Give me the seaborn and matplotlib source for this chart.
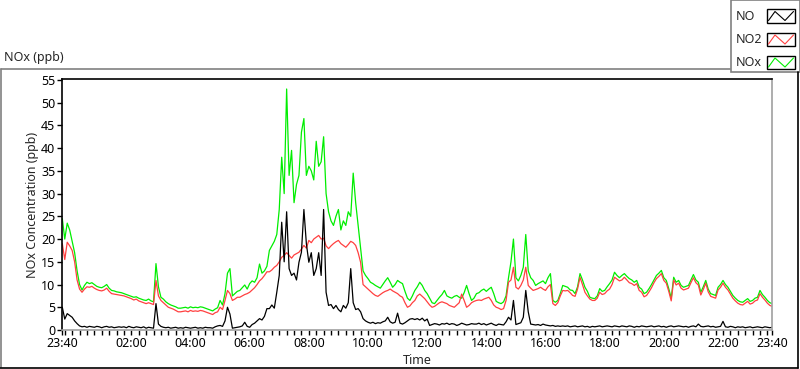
import pandas as pd
import numpy as np
import seaborn as sns
import matplotlib.pyplot as plt
import matplotlib.dates as mdates
from matplotlib.lines import Line2D
from matplotlib.patches import Rectangle

# 5-minute readings from 23:40 to 23:40 next day
start_time = '2020-01-01 23:40'
step = '5min'

no = [
    5.0, 2.4, 3.6, 3.2, 2.8, 2.0, 1.4, 0.9, 0.7, 0.8, 0.6, 0.8,
    0.7, 0.6, 0.8, 0.7, 0.5, 0.7, 0.8, 0.6, 0.7, 0.5, 0.6, 0.7,
    0.6, 0.7, 0.5, 0.8, 0.6, 0.5, 0.7, 0.6, 0.5, 0.7, 0.4, 0.6,
    0.5, 0.4, 5.8, 1.3, 0.8, 0.6, 0.5, 0.6, 0.4, 0.5, 0.6, 0.4,
    0.5, 0.4, 0.6, 0.5, 0.4, 0.5, 0.6, 0.4, 0.5, 0.4, 0.6, 0.5,
    0.5, 0.4, 0.7, 0.9, 1.0, 0.8, 2.0, 5.0, 3.5, 0.4, 0.5, 0.6,
    0.7, 0.9, 1.7, 0.8, 0.6, 1.2, 1.5, 2.0, 2.5, 2.2, 3.0, 4.7,
    4.7, 5.5, 4.8, 8.3, 12.0, 23.7, 15.0, 26.0, 13.5, 12.0, 12.5, 11.0,
    14.9, 17.1, 26.5, 19.0, 14.9, 17.0, 12.0, 13.5, 17.0, 12.0, 26.5, 8.3,
    5.4, 5.6, 4.7, 5.4, 4.5, 4.0, 5.4, 4.8, 6.0, 13.5, 6.0, 4.5,
    4.7, 4.0, 2.5, 2.0, 1.7, 1.5, 1.7, 1.4, 1.6, 1.5, 1.8, 2.0,
    2.8, 1.8, 1.5, 1.7, 3.7, 1.5, 1.3, 1.6, 2.0, 2.4, 2.5, 2.3,
    2.5, 2.2, 2.6, 2.0, 2.4, 1.0, 1.2, 1.4, 1.3, 1.1, 1.4, 1.3,
    1.5, 1.2, 1.4, 1.3, 1.0, 1.2, 1.5, 1.3, 1.1, 1.2, 1.4, 1.3,
    1.3, 1.5, 1.2, 1.4, 1.1, 1.3, 1.5, 1.2, 1.0, 1.3, 1.2, 1.1,
    1.8, 2.8, 2.2, 6.5, 1.2, 1.4, 1.6, 2.8, 8.7, 4.0, 1.3, 1.2,
    1.1, 1.2, 1.0, 1.3, 1.1, 1.0, 0.9, 1.0, 0.8, 0.9, 0.8, 0.9,
    0.8, 0.9, 0.7, 0.8, 0.9, 0.7, 0.8, 0.9, 0.7, 0.8, 0.6, 0.8,
    0.7, 0.8, 0.9, 0.7, 0.8, 0.9, 0.8, 0.7, 0.9, 0.8, 0.7, 0.9,
    0.8, 0.7, 0.9, 0.8, 0.6, 0.8, 0.7, 0.9, 0.8, 0.7, 0.8, 0.9,
    0.7, 0.8, 0.9, 0.7, 0.8, 0.6, 0.8, 0.9, 0.7, 0.8, 0.9, 0.8,
    0.7, 0.8, 0.6, 0.8, 0.9, 0.7, 1.3, 0.8, 0.7, 0.8, 0.9, 0.7,
    0.8, 0.6, 0.7, 0.8, 1.9, 0.7, 0.6, 0.8, 0.7, 0.5, 0.7, 0.6,
    0.7, 0.5, 0.6, 0.7, 0.5, 0.6, 0.7, 0.6, 0.5, 0.7, 0.6, 0.5,
    0.6,
]

no2 = [
    19.0, 15.5, 19.3, 18.5, 17.5, 15.0, 11.0, 9.0, 8.3, 9.0, 9.5, 9.4,
    9.6, 9.2, 8.9, 8.7, 8.6, 8.8, 9.2, 8.5, 8.0, 7.9, 7.8, 7.7,
    7.6, 7.5, 7.3, 7.1, 6.9, 6.6, 6.8, 6.4, 6.2, 6.0, 5.8, 6.0,
    5.8, 5.6, 10.9, 7.5, 6.5, 6.0, 5.5, 5.0, 4.8, 4.6, 4.3, 4.0,
    4.0, 4.1, 4.2, 4.0, 4.3, 4.1, 4.2, 4.1, 4.3, 4.2, 4.0, 3.8,
    3.6, 3.4, 3.8, 4.0, 5.0, 4.5, 6.5, 8.7, 8.0, 6.5, 6.8, 7.2,
    7.2, 7.5, 7.8, 8.0, 8.3, 8.8, 9.3, 10.0, 10.8, 11.3, 12.0, 12.8,
    12.8, 13.2, 13.8, 14.2, 15.0, 16.0, 16.4, 17.0, 16.4, 15.8, 16.5, 16.8,
    17.1, 17.8, 18.6, 18.0, 19.7, 19.2, 20.0, 20.4, 20.8, 20.0, 20.2, 18.5,
    17.9, 18.5, 19.0, 19.4, 19.7, 19.0, 18.6, 18.2, 18.8, 19.5, 19.2, 18.6,
    17.0, 14.9, 10.0, 9.5, 9.0, 8.5, 8.0, 7.6, 7.4, 7.8, 8.2, 8.5,
    8.7, 9.0, 8.6, 8.3, 8.0, 7.5, 7.2, 6.0, 5.0, 5.3, 6.0, 6.5,
    7.5, 7.9, 7.4, 6.9, 6.2, 5.5, 5.0, 5.2, 5.6, 6.0, 6.2, 6.0,
    5.8, 5.4, 5.2, 5.0, 5.5, 6.0, 7.9, 6.5, 5.0, 5.4, 6.0, 6.3,
    6.5, 6.6, 6.5, 6.8, 7.0, 7.2, 6.5, 5.5, 5.0, 4.8, 4.5, 4.7,
    6.5, 10.5, 11.0, 13.8, 9.4, 9.0, 9.8, 11.0, 13.8, 9.8, 9.2, 8.7,
    8.9, 9.1, 9.4, 9.0, 8.7, 9.5, 10.0, 5.8, 5.4, 6.0, 7.5, 8.7,
    8.6, 8.7, 8.2, 7.6, 7.4, 9.0, 11.6, 10.0, 8.3, 7.5, 6.8, 6.5,
    6.5, 7.0, 8.3, 7.8, 8.0, 8.6, 9.0, 10.0, 11.6, 11.2, 10.8, 11.0,
    11.6, 11.0, 10.4, 10.2, 9.8, 10.2, 8.7, 8.3, 7.3, 7.6, 8.4, 9.3,
    10.4, 11.3, 11.8, 12.4, 10.9, 10.3, 8.5, 6.4, 11.0, 9.9, 10.3, 9.2,
    8.8, 9.0, 9.2, 10.4, 11.5, 10.4, 9.9, 7.7, 8.9, 10.3, 8.4, 7.4,
    7.2, 7.0, 8.8, 9.4, 10.3, 9.4, 8.8, 7.9, 7.0, 6.4, 5.9, 5.6,
    5.5, 5.9, 6.3, 5.7, 5.9, 6.4, 6.6, 8.0, 7.2, 6.6, 5.9, 5.4,
    5.2,
]

nox = [
    24.5, 20.0, 23.5, 22.0, 19.5, 17.0, 13.0, 10.0, 8.8, 9.8, 10.5, 10.2,
    10.4, 10.0, 9.6, 9.4, 9.3, 9.6, 10.0, 9.2, 8.7, 8.6, 8.4, 8.3,
    8.2, 8.0, 7.8, 7.6, 7.4, 7.2, 7.3, 7.0, 6.8, 6.6, 6.5, 6.8,
    6.4, 6.2, 14.6, 9.5, 7.2, 6.8, 6.2, 5.8, 5.5, 5.3, 5.1, 4.8,
    4.8, 4.9, 5.0, 4.8, 5.1, 4.9, 5.0, 4.9, 5.1, 5.0, 4.8, 4.6,
    4.4, 4.2, 4.6, 4.9, 6.5, 5.5, 8.0, 12.5, 13.5, 7.5, 8.0, 8.5,
    8.7, 9.3, 9.9, 9.0, 10.2, 10.8, 10.5, 11.5, 14.5, 12.5, 13.0, 14.0,
    17.5, 18.5, 19.5, 21.0, 26.5, 38.0, 30.0, 53.0, 34.0, 39.5, 28.0, 32.0,
    34.0, 43.5, 46.5, 34.0, 36.0, 35.0, 33.0, 41.5, 36.0, 37.0, 42.5, 30.0,
    26.0, 24.0, 23.0, 25.0, 26.5, 22.0, 24.0, 23.0, 26.0, 25.0, 34.5, 28.0,
    23.0, 18.0, 13.0, 12.0, 11.3, 10.5, 10.2, 9.8, 9.5, 9.2, 10.0, 10.8,
    11.5, 10.5, 9.4, 10.0, 10.9, 10.5, 10.2, 8.5, 7.0, 6.5, 7.5, 8.7,
    9.5, 10.5, 9.8, 8.7, 8.0, 7.0, 6.0, 5.8, 6.5, 7.2, 7.8, 8.7,
    7.5, 7.2, 7.0, 7.4, 7.6, 7.2, 7.0, 8.2, 9.8, 8.0, 6.5, 7.0,
    8.0, 8.2, 8.7, 9.0, 8.5, 9.0, 9.4, 8.0, 6.3, 6.0, 5.8, 6.2,
    7.5, 11.5, 15.0, 20.0, 11.5, 10.8, 12.0, 13.8, 21.0, 13.0, 11.5, 10.9,
    9.8, 10.2, 10.5, 10.8, 10.2, 11.5, 12.4, 6.5, 6.1, 6.5, 8.0, 9.8,
    9.6, 9.4, 8.8, 8.7, 8.0, 9.5, 12.4, 11.0, 9.4, 8.5, 7.2, 7.0,
    6.9, 7.5, 9.1, 8.5, 8.7, 9.5, 10.2, 11.0, 12.7, 12.0, 11.5, 12.0,
    12.4, 11.8, 11.3, 11.0, 10.5, 10.9, 9.4, 9.0, 8.0, 8.3, 9.1, 10.0,
    11.0, 12.0, 12.5, 13.1, 11.5, 10.9, 9.1, 7.0, 11.6, 10.5, 10.9, 9.8,
    9.4, 9.6, 9.8, 11.0, 12.2, 11.0, 10.5, 8.3, 9.5, 10.9, 9.0, 8.0,
    7.8, 7.6, 9.4, 10.0, 10.9, 10.0, 9.4, 8.5, 7.6, 7.0, 6.5, 6.2,
    6.1, 6.5, 6.9, 6.3, 6.5, 7.0, 7.2, 8.7, 7.8, 7.2, 6.5, 6.0,
    5.8,
]

series_names = ['NO', 'NO2', 'NOx']
series_colors = ['#000000', '#ff4040', '#00ee00']

times = pd.date_range(start_time, periods=len(no), freq=step)
df = pd.DataFrame({'Time': times, 'NO': no, 'NO2': no2, 'NOx': nox})
long_df = df.melt(id_vars='Time', var_name='gas', value_name='ppb')

sns.set_style('white')
plt.rcParams['font.family'] = ['Noto Sans', 'DejaVu Sans']

W, H = 800, 369
fig = plt.figure(figsize=(W / 100, H / 100), dpi=100)


def fx(px):
    return px / W


def fy(py):
    return 1 - py / H


ax = fig.add_axes([fx(62.3), fy(330), fx(772.3) - fx(62.3), fy(79) - fy(330)])

sns.lineplot(data=long_df, x='Time', y='ppb', hue='gas',
             hue_order=['NOx', 'NO2', 'NO'],
             palette={'NO': series_colors[0], 'NO2': series_colors[1], 'NOx': series_colors[2]},
             linewidth=0.9, legend=False, ax=ax)

ax.set_ylim(0, 55.2)
ax.set_xlim(times[0], times[-1])
ax.set_yticks(np.arange(0, 56, 5))

major = [times[0]] + list(pd.date_range('2020-01-02 02:00', '2020-01-02 22:00', freq='2h')) + [times[-1]]
ax.set_xticks(major)
ax.xaxis.set_major_formatter(mdates.DateFormatter('%H:%M'))
ax.xaxis.set_minor_locator(mdates.MinuteLocator(byminute=[0, 15, 30, 45]))
ax.tick_params(axis='both', which='both', direction='out', length=3.5, width=1,
               color='black', labelsize=9, labelcolor='black', pad=1.5)
ax.tick_params(axis='x', which='both', bottom=True)
ax.tick_params(axis='y', left=True)

ax.set_xlabel('Time', fontsize=9)
ax.set_ylabel('NOx Concentration (ppb)', fontsize=9)
ax.xaxis.set_label_coords(0.5, -0.095)
ax.yaxis.set_label_coords(-0.033, 0.5)

for side in ['left', 'top']:
    ax.spines[side].set_color('black')
    ax.spines[side].set_linewidth(1.2)
for side in ['right', 'bottom']:
    ax.spines[side].set_color('#a0a0a0')
    ax.spines[side].set_linewidth(1.2)

# outer chart frame
fig.add_artist(Line2D([fx(0.5), fx(730)], [fy(69), fy(69)], color='#808080', lw=1.2))
fig.add_artist(Line2D([fx(0.8), fx(0.8)], [fy(69), fy(367)], color='#808080', lw=1.2))
fig.add_artist(Line2D([fx(797.5), fx(797.5)], [fy(72), fy(367.5)], color='black', lw=1.2))
fig.add_artist(Line2D([fx(0), fx(797.5)], [fy(367.5), fy(367.5)], color='black', lw=1.2))
fig.text(fx(4), fy(58), 'NOx (ppb)', fontsize=9, va='center', ha='left')

# legend panel
fig.add_artist(Rectangle((fx(730.5), fy(71.5)), fx(799.5) - fx(730.5), fy(0) - fy(71.5),
                         transform=fig.transFigure, facecolor='white', edgecolor='#808080', lw=1.2))
row_y = [16, 39.5, 62.5]
for name, color, yc in zip(series_names, series_colors, row_y):
    fig.text(fx(736), fy(yc), name, fontsize=9, va='center', ha='left')
    fig.add_artist(Rectangle((fx(767), fy(yc + 6.8)), fx(795) - fx(767), fy(yc - 6.8) - fy(yc + 6.8),
                             transform=fig.transFigure, facecolor='white', edgecolor='black', lw=1.0))
    fig.add_artist(Line2D([fx(768.5), fx(775), fx(785), fx(793.5)],
                          [fy(yc + 4.5), fy(yc - 4.5), fy(yc + 4.5), fy(yc - 4.5)],
                          color=color, lw=0.8))

fig.savefig('out.png', dpi=100)
